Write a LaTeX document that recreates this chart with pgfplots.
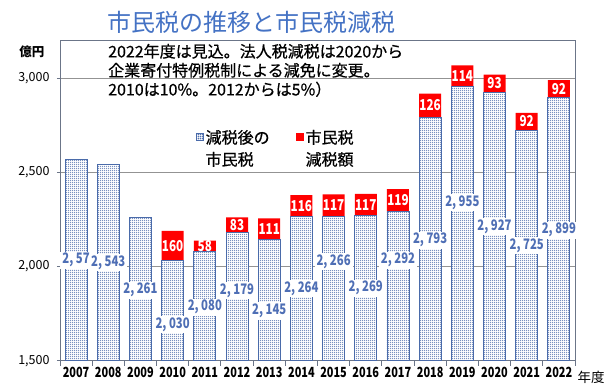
\documentclass[border=0pt]{standalone}
\usepackage{fontspec}
\setmainfont{Noto Sans CJK JP}
\newfontfamily\condfont{Noto Sans CJK JP}[FakeStretch=0.78]
\newfontfamily\notefont{Noto Sans CJK JP}[FakeBold=0.6]
\usepackage{pgfplots}
\pgfplotsset{compat=1.18}
\usetikzlibrary{patterns.meta}
\definecolor{barblue}{HTML}{4A6BAA}
\definecolor{titleblue}{HTML}{4472C4}
\definecolor{labblue}{HTML}{4F6FB5}
\definecolor{myred}{HTML}{FF0000}
\definecolor{framecol}{HTML}{6B7588}
\tikzdeclarepattern{name=finedots, type=uncolored,
  bottom left={(0bp,0bp)}, top right={(2bp,2bp)}, tile size={(2bp,2bp)},
  code={\pgfpathcircle{\pgfqpoint{1bp}{1bp}}{0.8bp}\pgfusepath{fill}}}
\pgfplotstableread{
x base red
0 2570 0
1 2543 0
2 2261 0
3 2030 160
4 2080 58
5 2179 83
6 2145 111
7 2264 116
8 2266 117
9 2269 117
10 2292 119
11 2793 126
12 2955 114
13 2927 93
14 2725 92
15 2899 92
}\datatable
\tikzset{
  lab/.style={fill=white, inner xsep=2bp, inner ysep=1.5bp, text=labblue, font=\condfont\bfseries\fontsize{14.5bp}{14.5bp}\selectfont},
  rlab/.style={inner sep=0bp, text=white, font=\condfont\bfseries\fontsize{15bp}{15bp}\selectfont}
}
\pgfplotsset{
  baseleg/.style={legend image code/.code={\draw[draw=barblue, line width=0.6bp, fill=white, postaction={pattern=finedots, pattern color=barblue}] (0bp,3bp) rectangle (7bp,10bp);}},
  redleg/.style={legend image code/.code={\fill[myred] (0bp,2.5bp) rectangle (8bp,10.5bp);}}
}
\begin{document}
\begin{tikzpicture}
\path[use as bounding box] (-60bp,-30.3bp) rectangle (551bp,360.7bp);
\begin{axis}[
  scale only axis, width=515bp, height=320bp, at={(0bp,0bp)}, anchor=south west,
  ybar stacked, bar width=22bp,
  xmin=-0.5, xmax=15.5, ymin=1500, ymax=3200,
  xtick={0,...,15},
  xticklabels={2007,2008,2009,2010,2011,2012,2013,2014,2015,2016,2017,2018,2019,2020,2021,2022},
  minor xtick={-0.5,0.5,...,15.5},
  major x tick style={draw=none},
  minor tick length=5bp, major tick length=3bp,
  tick align=outside, xtick pos=bottom, ytick pos=left,
  ytick={1500,2000,2500,3000},
  yticklabels={{1,500},{2,000},{2,500},{3,000}},
  ymajorgrids, grid style={draw=gray!85, line width=0.7bp},
  axis line style={framecol, line width=0.9bp},
  tick style={framecol, line width=0.9bp},
  x tick label style={font=\condfont\bfseries\fontsize{14bp}{14bp}\selectfont},
  y tick label style={font=\fontsize{12.5bp}{13bp}\selectfont, xshift=-4bp},
  legend style={at={(rel axis cs:0.258,0.74)}, anchor=north west, draw=none, fill=none,
    font=\notefont\fontsize{16bp}{22bp}\selectfont, cells={anchor=base west},
    /tikz/every even column/.append style={column sep=24bp}},
  legend columns=2,
]
\addplot[draw=barblue, line width=0.9bp, fill=white,
  postaction={pattern=finedots, pattern color=barblue}, baseleg]
  table[x=x, y=base] {\datatable};
\addlegendentry{\begin{tabular}[t]{@{}l@{}}減税後の\\市民税\end{tabular}}
\addplot[draw=none, fill=myred, redleg]
  table[x=x, y=red] {\datatable};
\addlegendentry{\begin{tabular}[t]{@{}l@{}}市民税\\減税額\end{tabular}}
% base label positions
\coordinate (b0) at (axis cs:0,2034);
\coordinate (b1) at (axis cs:1,2020);
\coordinate (b2) at (axis cs:2,1875);
\coordinate (b3) at (axis cs:3,1690);
\coordinate (b4) at (axis cs:4,1785);
\coordinate (b5) at (axis cs:5,1872);
\coordinate (b6) at (axis cs:6,1764);
\coordinate (b7) at (axis cs:7,1883);
\coordinate (b8) at (axis cs:8,2025);
\coordinate (b9) at (axis cs:9,1886);
\coordinate (b10) at (axis cs:10,2034);
\coordinate (b11) at (axis cs:11,2141);
\coordinate (b12) at (axis cs:12,2339);
\coordinate (b13) at (axis cs:13,2211);
\coordinate (b14) at (axis cs:14,2110);
\coordinate (b15) at (axis cs:15,2194);
% red label positions (segment centres)
\coordinate (r3) at (axis cs:3,2110);
\coordinate (r4) at (axis cs:4,2109);
\coordinate (r5) at (axis cs:5,2220.5);
\coordinate (r6) at (axis cs:6,2200.5);
\coordinate (r7) at (axis cs:7,2322);
\coordinate (r8) at (axis cs:8,2324.5);
\coordinate (r9) at (axis cs:9,2327.5);
\coordinate (r10) at (axis cs:10,2351.5);
\coordinate (r11) at (axis cs:11,2856);
\coordinate (r12) at (axis cs:12,3012);
\coordinate (r13) at (axis cs:13,2973.5);
\coordinate (r14) at (axis cs:14,2771);
\coordinate (r15) at (axis cs:15,2945);
\end{axis}
\node[lab] at (b0) {2, 57};
\node[lab] at (b1) {2, 543};
\node[lab] at (b2) {2, 261};
\node[lab] at (b3) {2, 030};
\node[lab] at (b4) {2, 080};
\node[lab] at (b5) {2, 179};
\node[lab] at (b6) {2, 145};
\node[lab] at (b7) {2, 264};
\node[lab] at (b8) {2, 266};
\node[lab] at (b9) {2, 269};
\node[lab] at (b10) {2, 292};
\node[lab] at (b11) {2, 793};
\node[lab] at (b12) {2, 955};
\node[lab] at (b13) {2, 927};
\node[lab] at (b14) {2, 725};
\node[lab] at (b15) {2, 899};
\node[rlab] at (r3) {160};
\node[rlab] at (r4) {58};
\node[rlab] at (r5) {83};
\node[rlab] at (r6) {111};
\node[rlab] at (r7) {116};
\node[rlab] at (r8) {117};
\node[rlab] at (r9) {117};
\node[rlab] at (r10) {119};
\node[rlab] at (r11) {126};
\node[rlab] at (r12) {114};
\node[rlab] at (r13) {93};
\node[rlab] at (r14) {92};
\node[rlab] at (r15) {92};
\node[font=\fontsize{24bp}{24bp}\selectfont, text=titleblue] at (191.5bp,338.7bp) {市民税の推移と市民税減税};
\node[anchor=north west, align=left, inner sep=0bp, font=\notefont\fontsize{16bp}{19bp}\selectfont] at (48bp,317bp)
  {2022年度は見込。法人税減税は2020から\\企業寄付特例税制による減免に変更。\\2010は10\%。2012からは5\%）};
\node[font=\bfseries\fontsize{12.5bp}{13bp}\selectfont] at (-28bp,308.7bp) {億円};
\node[font=\fontsize{13.5bp}{14bp}\selectfont] at (531bp,-16.3bp) {年度};
\end{tikzpicture}
\end{document}
